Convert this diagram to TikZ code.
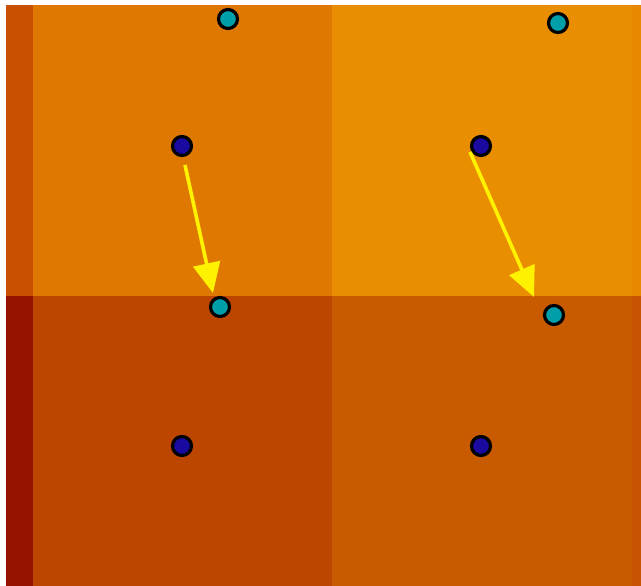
\documentclass[tikz,border=0pt]{standalone}
\usetikzlibrary{arrows.meta}
\definecolor{stripTL}{RGB}{200,80,0}
\definecolor{cellTL}{RGB}{223,120,0}
\definecolor{cellTR}{RGB}{233,142,0}
\definecolor{stripTR}{RGB}{232,136,0}
\definecolor{stripBL}{RGB}{150,18,0}
\definecolor{cellBL}{RGB}{188,69,0}
\definecolor{cellBR}{RGB}{200,90,0}
\definecolor{stripBR}{RGB}{198,84,0}
\definecolor{mkblue}{RGB}{26,10,160}
\definecolor{mkcyan}{RGB}{0,158,168}
\begin{document}
\begin{tikzpicture}[x=1pt,y=-1pt,
  mk/.style={circle,draw=black,line width=3.2pt,minimum size=19pt,inner sep=0pt},
  bluemk/.style={mk,fill=mkblue},
  cyanmk/.style={mk,fill=mkcyan},
  yarrow/.style={draw=yellow,line width=3.6pt,-{Triangle[length=30pt,width=27pt]}}]
\useasboundingbox (0,0) rectangle (641,586);
\fill[white] (0,0) rectangle (641,586);
% cells
\fill[stripTL] (6,5) rectangle (33,296);
\fill[cellTL] (33,5) rectangle (332,296);
\fill[cellTR] (332,5) rectangle (632,296);
\fill[stripTR] (632,5) rectangle (641,296);
\fill[stripBL] (6,296) rectangle (33,586);
\fill[cellBL] (33,296) rectangle (332,586);
\fill[cellBR] (332,296) rectangle (632,586);
\fill[stripBR] (632,296) rectangle (641,586);
% markers
\node[cyanmk] (c1) at (228,19) {};
\node[cyanmk] (c2) at (558,23) {};
\node[bluemk] (b1) at (182,146) {};
\node[bluemk] (b2) at (481,146) {};
\node[cyanmk] (c3) at (220,307) {};
\node[cyanmk] (c4) at (554,315) {};
\node[bluemk] (b3) at (182,446) {};
\node[bluemk] (b4) at (481,446) {};
% arrows
\coordinate (a1s) at (185,165);
\coordinate (a1e) at (213,293);
\coordinate (a2s) at (470,152);
\coordinate (a2e) at (534,297);
\draw[yarrow] (a1s) -- (a1e);
\draw[yarrow] (a2s) -- (a2e);
\end{tikzpicture}
\end{document}
